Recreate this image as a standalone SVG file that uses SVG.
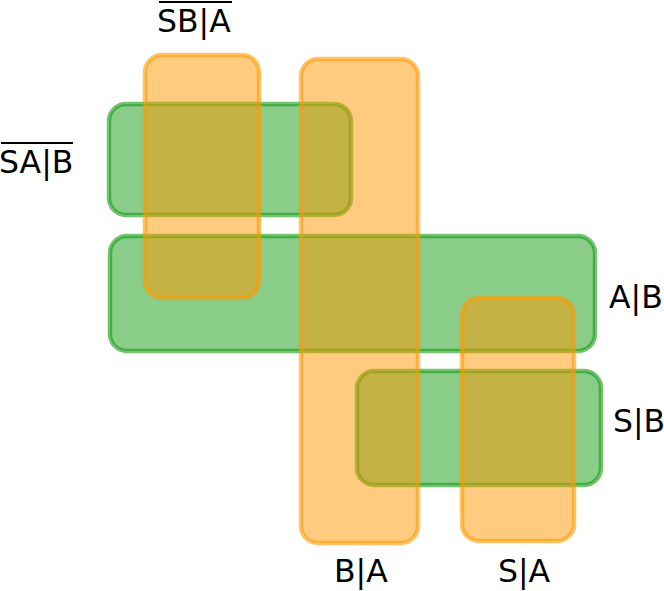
<svg xmlns="http://www.w3.org/2000/svg" width="664" height="591" viewBox="0 0 664 591">
<style>
.g{fill:rgb(20,155,20);fill-opacity:0.5;stroke:rgb(20,155,20);stroke-opacity:0.6;stroke-width:4.5}
.o{fill:rgb(255,153,0);fill-opacity:0.5;stroke:rgb(255,153,0);stroke-opacity:0.6;stroke-width:4.5}
.t{font-family:"DejaVu Sans",sans-serif;font-size:31.5px;fill:#000}
.ol{stroke:#000;stroke-width:2}
</style>
<rect width="664" height="591" fill="#fff"/>
<g id="SAbarB"><rect class="g" x="109" y="104" width="242" height="111" rx="17"/></g>
<g id="AB"><rect class="g" x="110" y="236" width="485" height="115" rx="17"/></g>
<g id="SB"><rect class="g" x="357" y="371" width="244" height="114" rx="17"/></g>
<g id="SBbarA"><rect class="o" x="145" y="55" width="114" height="243" rx="17"/></g>
<g id="BA"><rect class="o" x="301" y="59" width="117" height="484" rx="17"/></g>
<g id="SA"><rect class="o" x="462" y="298" width="112" height="243" rx="17"/></g>
<g id="labels">
<text class="t" x="157" y="32">SB|A</text>
<line class="ol" x1="159" y1="2" x2="232" y2="2"/>
<text class="t" x="-1" y="173">SA|B</text>
<line class="ol" x1="1" y1="143" x2="73" y2="143"/>
<text class="t" x="609" y="308">A|B</text>
<text class="t" x="613" y="432">S|B</text>
<text class="t" x="334" y="582">B|A</text>
<text class="t" x="498" y="582">S|A</text>
</g>
<g id="connectors"></g>
</svg>
